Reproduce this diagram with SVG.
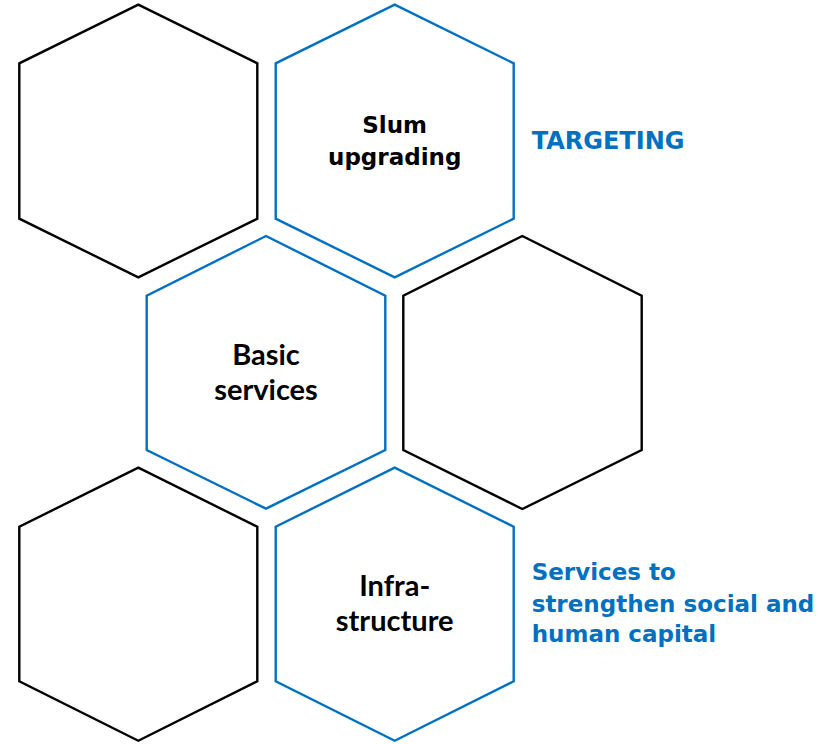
<svg xmlns="http://www.w3.org/2000/svg" width="818" height="744" viewBox="0 0 818 744">
<style>
.hk{fill:#fff;stroke:#000;stroke-width:2.4}
.hb{fill:#fff;stroke:#0070C0;stroke-width:2.4}
.fu{font-family:"DejaVu Sans",sans-serif;font-weight:bold;font-size:23px;fill:#000}
.ca{font-family:Lato,"Liberation Sans",sans-serif;font-weight:bold;font-size:29px;fill:#000}
.bl{font-family:"DejaVu Sans",sans-serif;font-weight:bold;fill:#0070C0}
</style>
<rect width="818" height="744" fill="#fff"/>
<g id="hex-top-left">
<polygon class="hk" points="138.3,4.7 257.3,63.3 257.3,218.7 138.3,277.3 19.3,218.7 19.3,63.3"/>
</g>
<g id="hex-slum-upgrading">
<polygon class="hb" points="394.7,4.7 513.7,63.3 513.7,218.7 394.7,277.3 275.7,218.7 275.7,63.3"/>
<text class="fu" x="394.7" y="133.3" text-anchor="middle">Slum</text>
<text class="fu" x="394.7" y="165" text-anchor="middle">upgrading</text>
</g>
<g id="hex-basic-services">
<polygon class="hb" points="266,236 385.3,295.7 385.3,450 266,508.7 146.7,450 146.7,295.7"/>
<text class="ca" x="266" y="365" text-anchor="middle">Basic</text>
<text class="ca" x="266" y="400" text-anchor="middle">services</text>
</g>
<g id="hex-middle-right">
<polygon class="hk" points="522.3,236 641.7,295.7 641.7,450 522.3,509 403.3,450 403.3,295.7"/>
</g>
<g id="hex-bottom-left">
<polygon class="hk" points="138.3,467.7 257.3,526.7 257.3,681.3 138.3,740.7 19.3,681.3 19.3,526.7"/>
</g>
<g id="hex-infrastructure">
<polygon class="hb" points="394.7,467.7 513.7,526.7 513.7,681.3 394.7,740.7 275.7,681.3 275.7,526.7"/>
<text class="ca" x="394.7" y="596" text-anchor="middle">Infra-</text>
<text class="ca" x="394.7" y="630.7" text-anchor="middle">structure</text>
</g>
<g id="label-targeting">
<text class="bl" x="531.7" y="149" font-size="24">TARGETING</text>
</g>
<g id="label-services">
<text class="bl" x="531.7" y="580" font-size="23">Services to</text>
<text class="bl" x="531.7" y="612" font-size="23">strengthen social and</text>
<text class="bl" x="531.7" y="642" font-size="23">human capital</text>
</g>
</svg>
